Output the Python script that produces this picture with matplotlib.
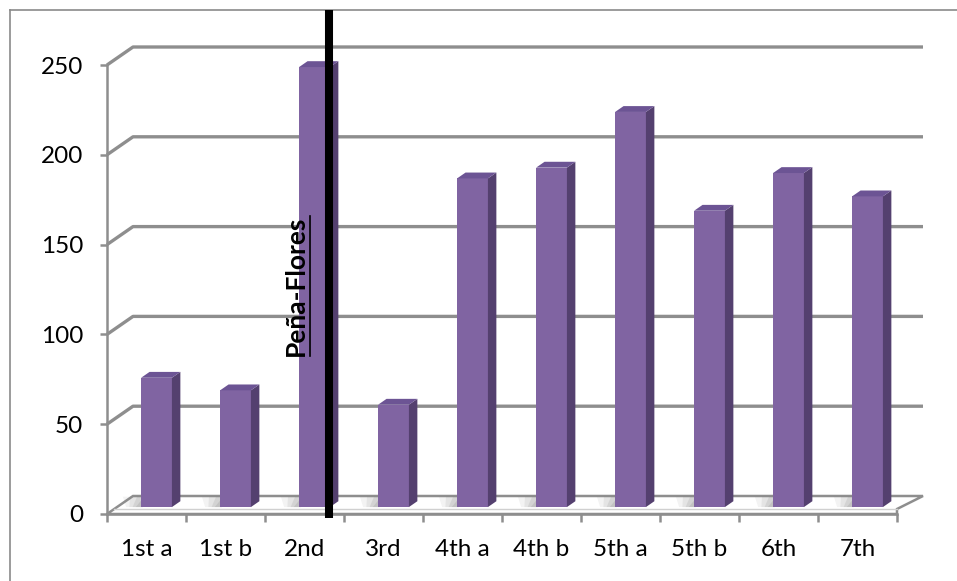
import matplotlib
matplotlib.use('Agg')
import numpy as np
import matplotlib.pyplot as plt
from matplotlib.patches import Polygon
from matplotlib.lines import Line2D
from matplotlib.transforms import ScaledTranslation, IdentityTransform

# Students per grade
grades = ['1st a', '1st b', '2nd', '3rd', '4th a', '4th b', '5th a', '5th b', '6th', '7th']
counts = [72, 65, 245, 57, 183, 189, 220, 165, 186, 173]
yticks = [0, 50, 100, 150, 200, 250]

plt.rcParams['font.family'] = ['Lato', 'DejaVu Sans']

W, H = 957, 581
fig = plt.figure(figsize=(W / 100, H / 100), dpi=100)

# front plane of the box (pixels from the top left corner)
x0, x1 = 107, 897
y0, y1 = 514, 65
ax = fig.add_axes([x0 / W, (H - y0) / H, (x1 - x0) / W, (y0 - y1) / H])
ax.set_xlim(-0.5, len(grades) - 0.5)
ax.set_ylim(0, 250)
ax.patch.set_visible(False)

GRID = '#8e8e8e'
DX, DY = 26, 18          # depth of the box in pixels
BAR_F, BAR_B = 0.385, 0.71   # front/back depth of the columns
BAR_W = 0.39


def px(x, y, depth=0.0):
    X, Y = ax.transData.transform((x, y))
    return (X + DX * depth, Y + DY * depth)


def poly(pts, **kw):
    p = Polygon(pts, closed=True, transform=IdentityTransform(), clip_on=False, **kw)
    ax.add_patch(p)
    return p


def line(pts, **kw):
    xs, ys = zip(*pts)
    l = Line2D(xs, ys, transform=IdentityTransform(), clip_on=False, **kw)
    ax.add_line(l)
    return l


xl, xr = -0.5, len(grades) - 0.5

# back wall gridlines + left wall diagonals
for v in yticks[1:]:
    line([px(xl, v, 0), px(xl, v, 1), px(xr, v, 1)], color=GRID, lw=2.4,
         solid_capstyle='butt', zorder=1)

# floor slab (5 px thick at the front)
fr = px(xr, 0, 0)
poly([px(xl, 0, 0), px(xl, 0, 1), px(xr, 0, 1), (fr[0], fr[1] + 5), fr],
     facecolor='white', edgecolor=GRID, lw=1.8, zorder=1.5)
fl = px(xl, 0, 0)
line([(fl[0] + 7, fl[1] + 5), (fr[0], fr[1] + 5)], color='#d0d0d0', lw=1.0, zorder=1.6)

# soft shadows on the floor, left of each column
for i, v in enumerate(counts):
    a = i - BAR_W / 2
    for k, alpha in enumerate([0.10, 0.14, 0.18, 0.22]):
        ext = 0.42 - k * 0.09
        poly([px(a - ext, 0, 0.96), px(a + 0.02, 0, 0.96), px(a + 0.02, 0, BAR_F),
              px(a - ext * 0.45, 0, BAR_F)],
             facecolor='#8a8a8a', edgecolor='none', alpha=alpha, zorder=2)

# column front faces, shifted back into the box
shift = ScaledTranslation(DX * BAR_F / 100, DY * BAR_F / 100, fig.dpi_scale_trans)
ax.bar(range(len(grades)), counts, width=BAR_W, color='#8064a2',
       transform=ax.transData + shift, zorder=3, clip_on=False)

# side and top faces
for i, v in enumerate(counts):
    a, b = i - BAR_W / 2, i + BAR_W / 2
    poly([px(b, 0, BAR_F), px(b, v, BAR_F), px(b, v, BAR_B), px(b, 0, BAR_B)],
         facecolor='#54406f', edgecolor='none', zorder=3.1)
    poly([px(a, v, BAR_F), px(b, v, BAR_F), px(b, v, BAR_B), px(a, v, BAR_B)],
         facecolor='#6c5494', edgecolor='none', zorder=3.1)

# axes
for s in ['top', 'right']:
    ax.spines[s].set_visible(False)
for s in ['left', 'bottom']:
    ax.spines[s].set_color(GRID)
    ax.spines[s].set_linewidth(1.8)
    ax.spines[s].set_zorder(1.7)
ax.set_yticks(yticks)
ax.tick_params(axis='y', length=5, width=1.8, color=GRID, labelsize=17.5, pad=12)
ax.set_xticks(range(len(grades)))
ax.set_xticklabels(grades)
ax.set_xticks(np.arange(-0.5, len(grades), 1), minor=True)
ax.tick_params(axis='x', which='major', length=0, labelsize=17.5, pad=18)
ax.tick_params(axis='x', which='minor', length=6, width=1.8, color=GRID)

# outer chart frame
fig.add_artist(Line2D([10 / W, 10 / W], [0, 1 - 10 / H], color='#8a8a8a', lw=1.2,
                      transform=fig.transFigure))
fig.add_artist(Line2D([10 / W, 1], [1 - 10 / H, 1 - 10 / H], color='#8a8a8a', lw=1.2,
                      transform=fig.transFigure))

# marker line and label
fig.add_artist(Line2D([329 / W, 329 / W], [1 - 518 / H, 1 - 10 / H], color='black',
                      lw=5.8, solid_capstyle='butt', transform=fig.transFigure, zorder=5))
lbl = fig.text(296 / W, 1 - 286 / H, 'Peña-Flores', rotation=90, ha='center', va='center',
               fontsize=19, fontweight='bold', color='black', zorder=6)
fig.canvas.draw()
bb = lbl.get_window_extent()
fig.add_artist(Line2D([bb.x1 + 1.5, bb.x1 + 1.5], [bb.y0, bb.y1], color='black', lw=1.2,
                      transform=IdentityTransform(), zorder=6))

fig.savefig('out.png', dpi=100)
